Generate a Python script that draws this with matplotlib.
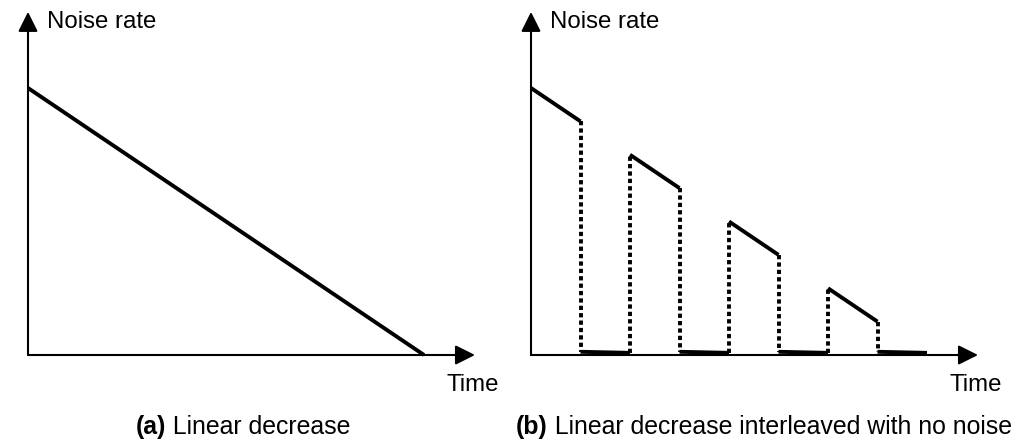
import matplotlib
matplotlib.use("Agg")
from matplotlib import pyplot as plt

# (a) linear decrease of the noise rate over time
time_a = [0, 8]
rate_a = [1.0, 0.0]

# (b) the same decrease, but switched on and off
on_t0 = [0, 2, 4, 6]
on_t1 = [1, 3, 5, 7]
on_start = [1.0, 0.75, 0.5, 0.25]
on_end = [0.875, 0.625, 0.375, 0.125]
off_t0 = [1, 3, 5, 7]
off_t1 = [2, 4, 6, 8]
off_start = [0.012, 0.012, 0.012, 0.012]
off_end = [0.008, 0.008, 0.008, 0.008]

y_label = "Noise rate"
x_label = "Time"
captions = [("(a)", " Linear decrease"),
            ("(b)", " Linear decrease interleaved with no noise")]

W, H = 1022, 442
ux, uy = 49.5, 267.0   # pixels per data unit
xmax, ymax = 9.03, 1.285
font = "Liberation Sans"
fs = 17.3

fig = plt.figure(figsize=(W / 100, H / 100), dpi=100)


def make_axes(x0, y0):
    # x0, y0: pixel position of the origin (from the top-left)
    ax = fig.add_axes([x0 / W, (H - y0) / H, xmax * ux / W, ymax * uy / H])
    ax.set_xlim(0, xmax)
    ax.set_ylim(0, ymax)
    ax.axis("off")
    arrow = dict(arrowstyle="-|>", lw=1.5, color="black", mutation_scale=30,
                 shrinkA=0, shrinkB=0)
    ax.annotate("", xy=(xmax, 0), xytext=(0, 0), arrowprops=arrow, annotation_clip=False)
    ax.annotate("", xy=(0, ymax), xytext=(0, 0), arrowprops=arrow, annotation_clip=False)
    ax.text(0.39, 1.247, y_label, fontsize=fs, family=font, ha="left", va="center")
    ax.text(8.46, -0.112, x_label, fontsize=fs, family=font, ha="left", va="center")
    return ax


ax_a = make_axes(28, 355)
ax_a.plot(time_a, rate_a, color="black", lw=2.8, solid_capstyle="butt", clip_on=False)

ax_b = make_axes(531, 355)
for i in range(len(on_t0)):
    ax_b.plot([on_t0[i], on_t1[i]], [on_start[i], on_end[i]], color="black", lw=2.8,
              solid_capstyle="butt", clip_on=False)
    ax_b.plot([off_t0[i], off_t1[i]], [off_start[i], off_end[i]], color="black", lw=2.8,
              solid_capstyle="butt", clip_on=False)
    # dotted drop to the no-noise level
    ax_b.plot([on_t1[i], off_t0[i]], [on_end[i], off_start[i]], color="black", lw=2.8,
              dashes=(1.1, 0.8), clip_on=False)
    # dotted jump back up to the next segment
    if i + 1 < len(on_t0):
        ax_b.plot([off_t1[i], on_t0[i + 1]], [off_end[i], on_start[i + 1]], color="black",
                  lw=2.8, dashes=(1.1, 0.8), clip_on=False)

# captions: bold tag followed by plain text
for (tag, rest), x0 in zip(captions, [136, 516]):
    t = fig.text(x0 / W, 8 / H, tag, fontsize=17.9, family=font, weight="bold",
                 ha="left", va="baseline")
    fig.canvas.draw()
    bb = t.get_window_extent()
    fig.text(bb.x1 / W, 8 / H, rest, fontsize=17.9, family=font, ha="left", va="baseline")

fig.savefig("out.png", dpi=100)
